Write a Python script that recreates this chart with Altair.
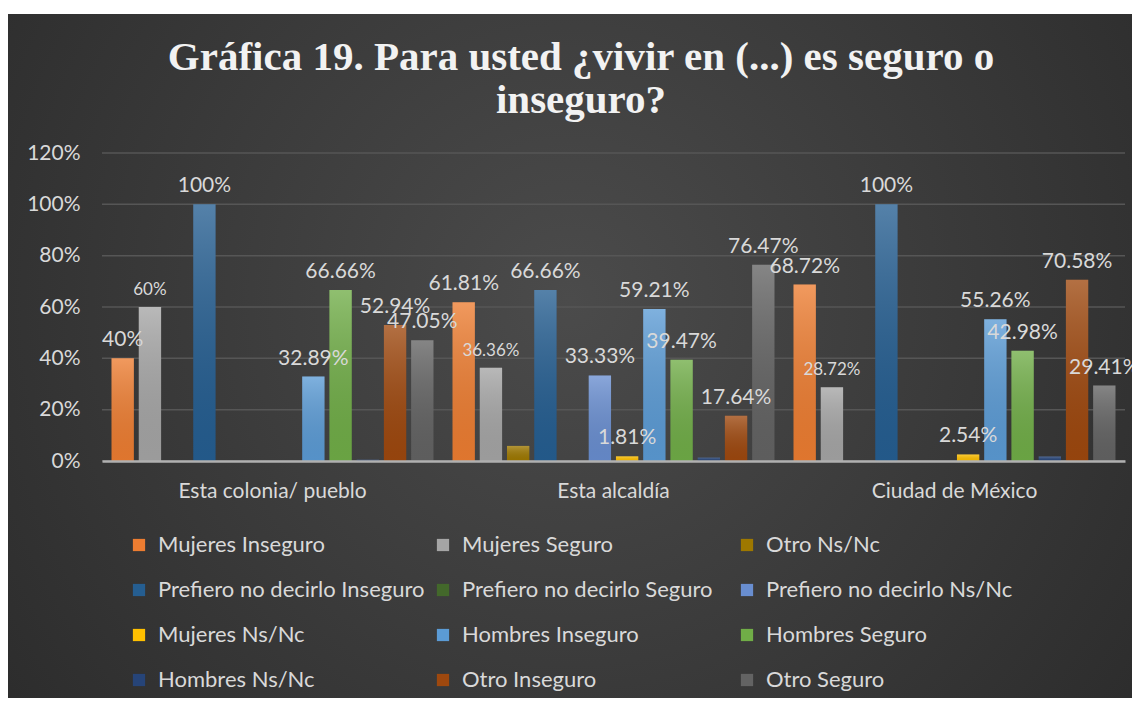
import altair as alt
import pandas as pd

groups = ["Esta colonia/ pueblo", "Esta alcaldía", "Ciudad de México"]
series = [
    "Mujeres Inseguro", "Mujeres Seguro", "Otro Ns/Nc",
    "Prefiero no decirlo Inseguro", "Prefiero no decirlo Seguro", "Prefiero no decirlo Ns/Nc",
    "Mujeres Ns/Nc", "Hombres Inseguro", "Hombres Seguro",
    "Hombres Ns/Nc", "Otro Inseguro", "Otro Seguro",
]
colors = [
    "#ED7D31", "#A5A5A5", "#9E7800",
    "#255E91", "#43682B", "#698ED0",
    "#FFC000", "#5B9BD5", "#70AD47",
    "#264478", "#9E480E", "#636363",
]

values_colonia = [0.40, 0.60, 0.0, 1.00, 0.0, 0.0, 0.0, 0.3289, 0.6666, 0.0045, 0.5294, 0.4705]
values_alcaldia = [0.6181, 0.3636, 0.0588, 0.6666, 0.0, 0.3333, 0.0181, 0.5921, 0.3947, 0.0132, 0.1764, 0.7647]
values_cdmx = [0.6872, 0.2872, 0.0, 1.00, 0.0, 0.0, 0.0254, 0.5526, 0.4298, 0.0175, 0.7058, 0.2941]

labels_colonia = ["40%", "60%", "", "100%", "", "", "", "32.89%", "66.66%", "", "52.94%", "47.05%"]
labels_alcaldia = ["61.81%", "36.36%", "", "66.66%", "", "33.33%", "1.81%", "59.21%", "39.47%", "", "17.64%", "76.47%"]
labels_cdmx = ["68.72%", "28.72%", "", "100%", "", "", "2.54%", "55.26%", "42.98%", "", "70.58%", "29.41%"]

y_ticks = [0, 0.2, 0.4, 0.6, 0.8, 1.0, 1.2]

title_lines = ["Gráfica 19. Para usted ¿vivir en (...) es seguro o", "inseguro?"]

rows = []
for g, vals, labs in zip(groups, [values_colonia, values_alcaldia, values_cdmx],
                         [labels_colonia, labels_alcaldia, labels_cdmx]):
    for s, v, l in zip(series, vals, labs):
        rows.append({"group": g, "series": s, "value": v, "label": l})
df = pd.DataFrame(rows)
ticks_df = pd.DataFrame({"tick": y_ticks})

W, H = 1023, 308
FONT = "Lato"
TXT = "#d9d9d9"

x_enc = alt.X("group:N", sort=groups, title=None,
              scale=alt.Scale(paddingInner=0, paddingOuter=0),
              axis=alt.Axis(labelAngle=0, labelFontSize=21, labelColor=TXT, labelFont=FONT,
                            labelPadding=19, labelLimit=400, ticks=False,
                            domainColor="#b0b0b0", domainWidth=2.5,
                            grid=False, zindex=1))
xo_enc = alt.XOffset("series:N", sort=series,
                     scale=alt.Scale(paddingInner=0.18, paddingOuter=0.35))
y_enc = alt.Y("value:Q", title=None,
              scale=alt.Scale(domain=[0, 1.2], nice=False),
              axis=alt.Axis(format=".0%", values=y_ticks,
                            labelFontSize=21, labelColor=TXT, labelFont=FONT,
                            labelPadding=22, ticks=False, domain=False, grid=False, zindex=1))

bg_grad = alt.Gradient(
    gradient="radial",
    stops=[alt.GradientStop(offset=0, color="#4b4b4b"),
           alt.GradientStop(offset=1, color="#262626")],
    x1=0.5, y1=0.45, r1=0, x2=0.5, y2=0.45, r2=0.75,
)
background = alt.Chart(alt.Data(values=[{"k": 1}])).mark_rect(fill=bg_grad).encode(
    x=alt.value(-94), x2=alt.value(1030), y=alt.value(-139), y2=alt.value(545)
)

grid = alt.Chart(ticks_df).mark_rule(color="#565656", strokeWidth=1.5).encode(
    y=alt.Y("tick:Q")
)

bars = alt.Chart(df).mark_bar().encode(
    x=x_enc, xOffset=xo_enc, y=y_enc,
    color=alt.Color("series:N", sort=series, title=None,
                    scale=alt.Scale(domain=series, range=colors),
                    legend=alt.Legend(orient="none", legendX=26, legendY=381,
                                      columns=3, direction="horizontal",
                                      gridAlign="all", columnPadding=7, rowPadding=23,
                                      symbolType="square", symbolSize=150, symbolStrokeWidth=0,
                                      labelFontSize=22, labelColor=TXT, labelFont=FONT,
                                      labelOffset=8, labelLimit=400)),
)

shade = alt.Chart(df).mark_bar(fill=alt.Gradient(
    gradient="linear",
    stops=[alt.GradientStop(offset=0, color="rgba(255,255,255,0.22)"),
           alt.GradientStop(offset=1, color="rgba(0,0,0,0.06)")],
    x1=0, y1=0, x2=0, y2=1)).encode(x=alt.X("group:N", sort=groups), xOffset=xo_enc, y="value:Q")

labels_big = alt.Chart(df).transform_filter(
    "datum.label != '' && datum.series != 'Mujeres Seguro'"
).mark_text(baseline="bottom", dy=-8, fontSize=21, color=TXT, font=FONT).encode(
    x=alt.X("group:N", sort=groups), xOffset=xo_enc, y="value:Q", text="label:N"
)
labels_small = alt.Chart(df).transform_filter(
    "datum.label != '' && datum.series == 'Mujeres Seguro'"
).mark_text(baseline="bottom", dy=-8, fontSize=17, color=TXT, font=FONT).encode(
    x=alt.X("group:N", sort=groups), xOffset=xo_enc, y="value:Q", text="label:N"
)

title = alt.Chart(alt.Data(values=[{"k": 1}])).mark_text(
    font="Liberation Serif", fontWeight="bold", fontSize=41, color="#f2f2f2",
    align="center", baseline="alphabetic", lineHeight=43, lineBreak="\n"
).encode(x=alt.value(479), y=alt.value(-83), text=alt.value("\n".join(title_lines)))

chart = alt.layer(background, grid, bars, shade, labels_big, labels_small, title).properties(
    width=W, height=H,
    autosize=alt.AutoSizeParams(type="none"),
    padding={"left": 94, "top": 145, "right": 7, "bottom": 237},
).configure(background="white").configure_view(stroke=None)

chart.save("out.html", embed_options={"renderer": "svg", "actions": False})
